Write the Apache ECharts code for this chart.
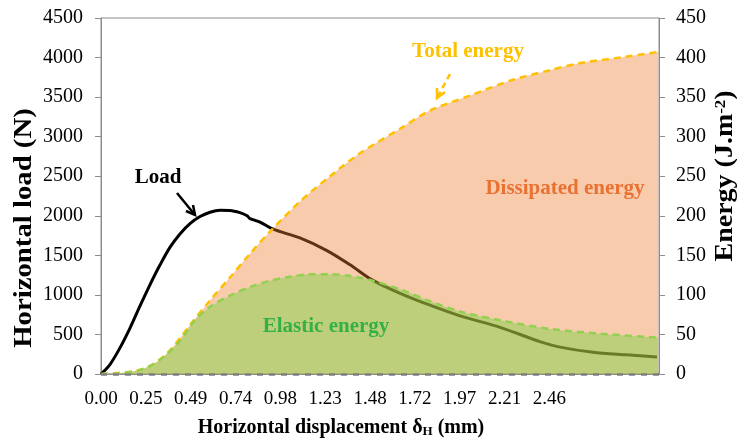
<!DOCTYPE html>
<html><head><meta charset="utf-8">
<script src="https://cdn.jsdelivr.net/npm/echarts@6.0.0/dist/echarts.min.js"></script>
<style>html,body{margin:0;padding:0;background:#fff}#c{width:737px;height:445px}</style>
</head><body><div id="c"></div>
<script>
// ---- data ----
const xTickLabels = ['0.00','0.25','0.49','0.74','0.98','1.23','1.48','1.72','1.97','2.21','2.46'];
const xTickStep = 0.2459;
const leftTicks = [0,500,1000,1500,2000,2500,3000,3500,4000,4500];
const rightTicks = [0,50,100,150,200,250,300,350,400,450];

const loadX = [0,0.049,0.104,0.159,0.214,0.269,0.324,0.378,0.433,0.488,0.543,0.598,0.653,0.707,0.762,0.801,0.817,0.872,0.943,1.091,1.239,1.366,1.486,1.640,1.804,1.969,2.188,2.407,2.517,2.698,2.885,3.049];
const loadY = [0,120,330,580,860,1130,1380,1600,1770,1900,1990,2045,2070,2068,2040,2000,1965,1920,1830,1720,1560,1380,1190,1020,870,735,590,410,340,275,242,215];

const totalX = [0,0.159,0.269,0.378,0.488,0.598,0.707,0.817,0.927,1.091,1.256,1.420,1.640,1.804,2.024,2.259,2.462,2.627,2.846,3.055];
const totalY = [0,3,10,30,62,93,122,152,180,218,250,279,310,333,352,372,384,393,400,407];

const elasticX = [0,0.104,0.214,0.324,0.433,0.515,0.598,0.707,0.817,0.927,1.036,1.146,1.256,1.366,1.475,1.640,1.804,1.969,2.188,2.462,2.736,3.055];
const elasticY = [0,1,5,18,42,68,85,99,110,118,123,126,126,124,119,107,92,79,68,57,51,46];

const zip = (xs, ys) => xs.map((x, i) => [x, ys[i]]);
const FONT = '"Liberation Serif","Times New Roman",serif';

const chart = echarts.init(document.getElementById('c'), null, {renderer: 'canvas'});
chart.setOption({
  animation: false,
  backgroundColor: '#fff',
  grid: {left: 101, right: 78, top: 18, bottom: 71, show: true, borderColor: '#8c8c8c', borderWidth: 1},
  xAxis: {
    type: 'value', min: 0, max: 3.06, interval: xTickStep,
    axisLine: {show: true, lineStyle: {color: '#8c8c8c', width: 1}},
    axisTick: {show: false},
    splitLine: {show: false},
    axisLabel: {
      fontFamily: FONT, fontSize: 19, color: '#000', margin: 16,
      showMaxLabel: false,
      formatter: v => { const i = Math.round(v / xTickStep); return (Math.abs(v - i * xTickStep) < 1e-6 && i < xTickLabels.length) ? xTickLabels[i] : ''; }
    }
  },
  yAxis: [{
    type: 'value', min: leftTicks[0], max: leftTicks[leftTicks.length - 1], interval: 500, position: 'left',
    axisLine: {show: true, lineStyle: {color: '#8c8c8c'}},
    axisTick: {show: true, inside: false, length: 6, lineStyle: {color: '#8c8c8c'}},
    splitLine: {show: false},
    axisLabel: {fontFamily: FONT, fontSize: 20, color: '#000', margin: 18, formatter: v => String(v)}
  }, {
    type: 'value', min: rightTicks[0], max: rightTicks[rightTicks.length - 1], interval: 50, position: 'right',
    axisLine: {show: true, lineStyle: {color: '#8c8c8c'}},
    axisTick: {show: true, inside: false, length: 6, lineStyle: {color: '#8c8c8c'}},
    splitLine: {show: false},
    axisLabel: {fontFamily: FONT, fontSize: 20, color: '#000', margin: 17, formatter: v => String(v)}
  }],
  series: [{
    name: 'Load', type: 'line', yAxisIndex: 0, data: zip(loadX, loadY), z: 1,
    showSymbol: false, smooth: 0.3,
    lineStyle: {color: '#000', width: 3}
  }, {
    name: 'Total energy', type: 'line', yAxisIndex: 1, data: zip(totalX, totalY), z: 2,
    showSymbol: false, smooth: 0.3,
    lineStyle: {color: '#FFC000', width: 2.5, type: [7, 5]},
    areaStyle: {color: 'rgba(237,125,49,0.4)', opacity: 1}
  }, {
    name: 'Elastic energy', type: 'line', yAxisIndex: 1, data: zip(elasticX, elasticY), z: 3,
    showSymbol: false, smooth: 0.3,
    lineStyle: {color: '#92D050', width: 2.5, type: [7, 5]},
    areaStyle: {color: 'rgba(117,212,60,0.45)', opacity: 1},
    markLine: {silent: true, symbol: 'none', label: {show: false},
      lineStyle: {color: '#7f7f7f', type: [6, 6], width: 2.5},
      data: [{yAxis: 0}]}
  }],
  graphic: {elements: [
    {type: 'text', z: 100, x: 25, y: 228, rotation: Math.PI / 2, scaleX: 1.15,
      style: {text: 'Horizontal load (N)', font: 'bold 25px ' + FONT, fill: '#000', textAlign: 'center', textVerticalAlign: 'middle'}},
    {type: 'text', z: 100, x: 726, y: 176, rotation: Math.PI / 2, scaleX: 1.12,
      style: {text: '{a|Energy (J.m}{s|-2}{a|)}', textAlign: 'center', textVerticalAlign: 'middle',
        rich: {a: {font: 'bold 25px ' + FONT, fill: '#000'}, s: {font: 'bold 15px ' + FONT, fill: '#000', verticalAlign: 'top'}}}},
    {type: 'text', z: 100, x: 341, y: 428,
      style: {text: '{a|Horizontal displacement δ}{s|H}{a| (mm)}', textAlign: 'center', textVerticalAlign: 'middle',
        rich: {a: {font: 'bold 20px ' + FONT, fill: '#000'}, s: {font: 'bold 13px ' + FONT, fill: '#000', verticalAlign: 'bottom'}}}},
    {type: 'text', z: 100, x: 158, y: 178, style: {text: 'Load', font: 'bold 21px ' + FONT, fill: '#000', textAlign: 'center', textVerticalAlign: 'middle'}},
    {type: 'text', z: 100, x: 468, y: 52, style: {text: 'Total energy', font: 'bold 21px ' + FONT, fill: '#FFC000', textAlign: 'center', textVerticalAlign: 'middle'}},
    {type: 'text', z: 100, x: 565, y: 189, style: {text: 'Dissipated energy', font: 'bold 21px ' + FONT, fill: '#E97132', textAlign: 'center', textVerticalAlign: 'middle'}},
    {type: 'text', z: 100, x: 326, y: 327, style: {text: 'Elastic energy', font: 'bold 21px ' + FONT, fill: '#34B048', textAlign: 'center', textVerticalAlign: 'middle'}},
    {type: 'polyline', z: 100, shape: {points: [[177, 193], [195, 215]]}, style: {stroke: '#000', lineWidth: 2.5, fill: null}},
    {type: 'polyline', z: 100, shape: {points: [[193, 205], [195, 215], [186, 211]]}, style: {stroke: '#000', lineWidth: 2.5, fill: null}},
    {type: 'polyline', z: 100, shape: {points: [[450, 74], [437, 98]]}, style: {stroke: '#FFC000', lineWidth: 2.5, lineDash: [6, 4], fill: null}},
    {type: 'polyline', z: 100, shape: {points: [[437, 88], [437, 98], [445, 92]]}, style: {stroke: '#FFC000', lineWidth: 2.5, fill: null}}
  ]}
});
</script>
</body></html>
